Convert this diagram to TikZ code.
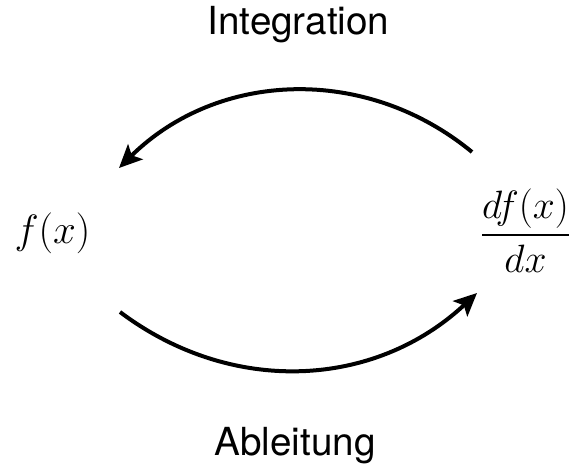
\documentclass[tikz,border=0pt]{standalone}
\usepackage{fix-cm}
\usepackage{amsmath}
\usepackage{fontspec}
\newfontfamily\heros{TeX Gyre Heros}
\usetikzlibrary{arrows.meta}
\begin{document}
\begin{tikzpicture}[
  every node/.style={inner sep=0pt},
  captionT/.style={font=\heros\fontsize{22}{26}\selectfont, anchor=base},
  mathN/.style={font=\fontsize{23.3}{28}\selectfont, anchor=base},
  fracN/.style={font=\fontsize{22.5}{27}\selectfont, anchor=base},
  flowArrow/.style={line width=0.08cm,
                    -{Stealth[length=4.6mm, width=4.2mm, inset=1mm]}}
]
\useasboundingbox (0,0) rectangle (11.46,9.26);
% TEXTS
\node[captionT] (integ) at (5.97,8.56) {Integration};
\node[captionT] (ableit) at (5.90,0.16) {Ableitung};
% FUNCTIONS
\node[mathN] (fx) at (1.05,4.40) {$f(x)$};
\node[fracN] (dfx) at (10.51,4.36) {$\dfrac{df(x)}{dx}$};
% ARROW ENDS
\coordinate (intStart) at (9.44,6.22);
\coordinate (intEnd)   at (2.38,5.90);
\coordinate (ablStart) at (2.40,3.02);
\coordinate (ablEnd)   at (9.54,3.40);
% ARROWS
\draw[flowArrow] (intStart) to[bend right=42] (intEnd);
\draw[flowArrow] (ablStart) to[bend right=40] (ablEnd);
\end{tikzpicture}
\end{document}
